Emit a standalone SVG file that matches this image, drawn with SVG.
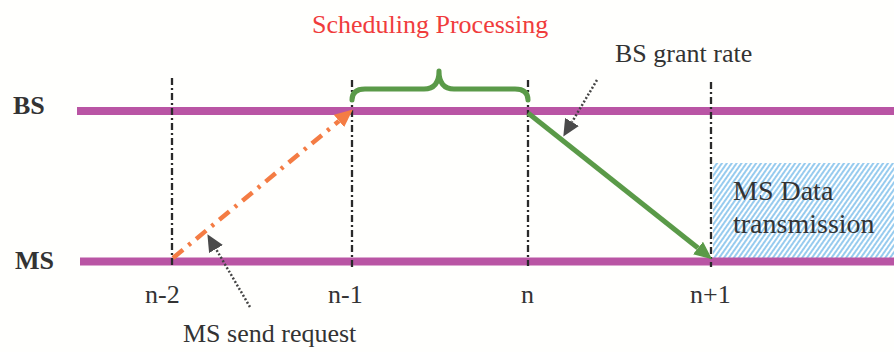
<svg xmlns="http://www.w3.org/2000/svg" width="894" height="352" viewBox="0 0 894 352">
  <defs>
    <style>
      .lbl { font-family: "Liberation Serif", "Times New Roman", serif; fill: #333333; }
      .title { font-family: "Liberation Serif", "Times New Roman", serif; fill: #f03c3c; font-size: 26px; }
      .axis { stroke: #b955a4; stroke-width: 8; }
      .tick { stroke: #2a2a2a; stroke-width: 2.3; stroke-dasharray: 7 3 2 3; fill: none; }
      .pointer { stroke: #444; stroke-width: 2.5; stroke-dasharray: 2 2; fill: none; }
    </style>
    <pattern id="hatch" width="4" height="4" patternUnits="userSpaceOnUse" patternTransform="rotate(35)">
      <rect width="4" height="4" fill="#ffffff"/>
      <line x1="1" y1="0" x2="1" y2="4" stroke="#6bb6e8" stroke-width="1.4"/>
    </pattern>
    <marker id="head-orange" markerUnits="userSpaceOnUse" markerWidth="18" markerHeight="16" refX="0" refY="8" orient="auto">
      <path d="M0,0 L18,8 L0,16 z" fill="#f47c44"/>
    </marker>
    <marker id="head-green" markerUnits="userSpaceOnUse" markerWidth="18" markerHeight="16" refX="0" refY="8" orient="auto">
      <path d="M0,0 L18,8 L0,16 z" fill="#5a9a48"/>
    </marker>
    <marker id="head-gray" markerUnits="userSpaceOnUse" markerWidth="17" markerHeight="16" refX="0" refY="8" orient="auto">
      <path d="M0,0 L17,8 L0,16 z" fill="#4a4a4a"/>
    </marker>
  </defs>

  <rect width="894" height="352" fill="#fffffd"/>

  <!-- data transmission area -->
  <g id="ms-data">
    <rect x="713" y="163" width="181" height="95" fill="url(#hatch)"/>
    <text class="lbl" x="733" y="200" font-size="28">MS Data</text>
    <text class="lbl" x="733" y="233" font-size="28">transmission</text>
  </g>

  <!-- station time axes -->
  <g id="bs">
    <line class="axis" x1="77" y1="111" x2="894" y2="111"/>
    <text class="lbl" x="13" y="114" font-size="26" font-weight="bold">BS</text>
  </g>
  <g id="ms">
    <line class="axis" x1="80" y1="261.5" x2="894" y2="261.5"/>
    <text class="lbl" x="15" y="269" font-size="26" font-weight="bold">MS</text>
  </g>

  <!-- slot boundaries -->
  <g id="slot-n-2">
    <line class="tick" x1="172" y1="78" x2="172" y2="268"/>
    <text class="lbl" x="145" y="303" font-size="26">n-2</text>
  </g>
  <g id="slot-n-1">
    <line class="tick" x1="352" y1="80" x2="352" y2="267"/>
    <text class="lbl" x="328" y="303" font-size="26">n-1</text>
  </g>
  <g id="slot-n">
    <line class="tick" x1="528" y1="80" x2="528" y2="266"/>
    <text class="lbl" x="521" y="303" font-size="26">n</text>
  </g>
  <g id="slot-n+1">
    <line class="tick" x1="711" y1="82" x2="711" y2="267"/>
    <text class="lbl" x="690" y="303" font-size="26">n+1</text>
  </g>

  <!-- scheduling interval -->
  <g id="scheduling">
    <path d="M352,100 Q352,89 365,89 L424,89 Q439,89 439,71 Q439,89 454,89 L515,89 Q528,89 528,100" fill="none" stroke="#5a9a48" stroke-width="5" stroke-linecap="round" stroke-linejoin="round"/>
    <text class="title" x="312" y="33">Scheduling Processing</text>
  </g>

  <g id="note-grant">
    <text class="lbl" x="615" y="62" font-size="26">BS grant rate</text>
  </g>
  <g id="note-request">
    <text class="lbl" x="183" y="342" font-size="26">MS send request</text>
  </g>

  <g id="connectors">
    <!-- request: MS to BS -->
    <line x1="173" y1="258" x2="339" y2="121" stroke="#f47c44" stroke-width="4.5" stroke-dasharray="13 7 3 7" marker-end="url(#head-orange)"/>
    <!-- grant: BS to MS -->
    <line x1="528" y1="113" x2="698" y2="248" stroke="#5a9a48" stroke-width="5" marker-end="url(#head-green)"/>
    <!-- callouts -->
    <line class="pointer" x1="597" y1="80" x2="572" y2="122" marker-end="url(#head-gray)"/>
    <line class="pointer" x1="250" y1="307" x2="216" y2="249" marker-end="url(#head-gray)"/>
  </g>
</svg>
